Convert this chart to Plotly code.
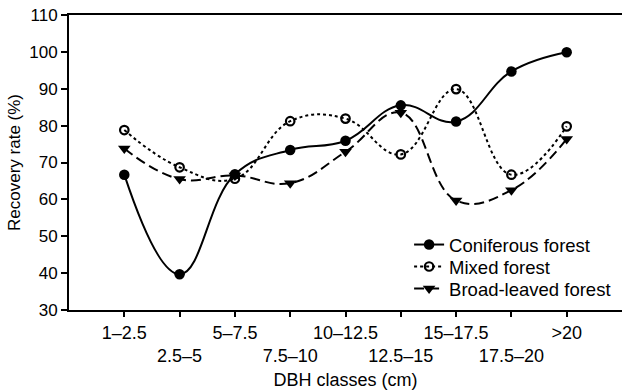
import plotly.graph_objects as go

categories = ["1–2.5", "2.5–5", "5–7.5", "7.5–10", "10–12.5", "12.5–15", "15–17.5", "17.5–20", ">20"]
coniferous = [66.7, 39.7, 66.8, 73.4, 75.9, 85.5, 81.1, 94.7, 99.9]
mixed = [78.8, 68.7, 65.6, 81.2, 81.9, 72.2, 89.9, 66.7, 79.8]
broadleaved = [73.8, 65.5, 66.5, 64.4, 72.9, 83.5, 59.7, 62.5, 76.4]

x_idx = list(range(len(categories)))
tick_text = [c if i % 2 == 0 else "<br>" + c for i, c in enumerate(categories)]

FONT = "Arial, Liberation Sans, sans-serif"
SM = 1.2

fig = go.Figure()
fig.add_trace(go.Scatter(
    x=x_idx, y=coniferous, name="Coniferous forest", mode="lines+markers",
    line=dict(color="black", width=2, shape="spline", smoothing=SM),
    marker=dict(symbol="circle", size=10.5, color="black"),
    legend="legend",
))
fig.add_trace(go.Scatter(
    x=x_idx, y=mixed, name="Mixed forest", mode="lines+markers",
    line=dict(color="black", width=2, dash="dot", shape="spline", smoothing=SM),
    marker=dict(symbol="circle-open", size=8.5, color="black", line=dict(width=2.2, color="black")),
    legend="legend2",
))
fig.add_trace(go.Scatter(
    x=x_idx, y=broadleaved, name="Broad-leaved forest", mode="lines+markers",
    line=dict(color="black", width=2, dash="10px,5px", shape="spline", smoothing=SM),
    marker=dict(symbol="triangle-down", size=11, color="black"),
    legend="legend3",
))

leg_x = 0.615
leg_common = dict(x=leg_x, xanchor="left", yanchor="middle",
                  bgcolor="rgba(0,0,0,0)", font=dict(size=18.5, family=FONT, color="black"))

fig.update_layout(
    width=622, height=392,
    margin=dict(l=69, r=0, t=15, b=82),
    paper_bgcolor="white", plot_bgcolor="white",
    font=dict(family=FONT, size=18, color="black"),
    showlegend=True,
    legend=dict(y=0.2203, **leg_common),
    legend2=dict(y=0.1458, **leg_common),
    legend3=dict(y=0.0712, **leg_common),
    xaxis=dict(
        range=[-1, 9], tickvals=x_idx, ticktext=tick_text, tickangle=0,
        showline=True, linecolor="black", linewidth=2, mirror=True,
        ticks="outside", ticklen=5, tickwidth=1.5, tickcolor="black",
        showgrid=False, zeroline=False, automargin=False,
        tickfont=dict(size=18),
        title=dict(text="DBH classes (cm)", font=dict(size=18), standoff=8),
    ),
    yaxis=dict(
        range=[30, 110], tickvals=[30, 40, 50, 60, 70, 80, 90, 100, 110],
        showline=True, linecolor="black", linewidth=2,
        ticks="outside", ticklen=6, tickwidth=1.5, tickcolor="black",
        showgrid=False, zeroline=False, automargin=False,
        tickfont=dict(size=17),
        title=dict(text="Recovery rate (%)", font=dict(size=17), standoff=4),
    ),
)

fig.write_html("out.html")
